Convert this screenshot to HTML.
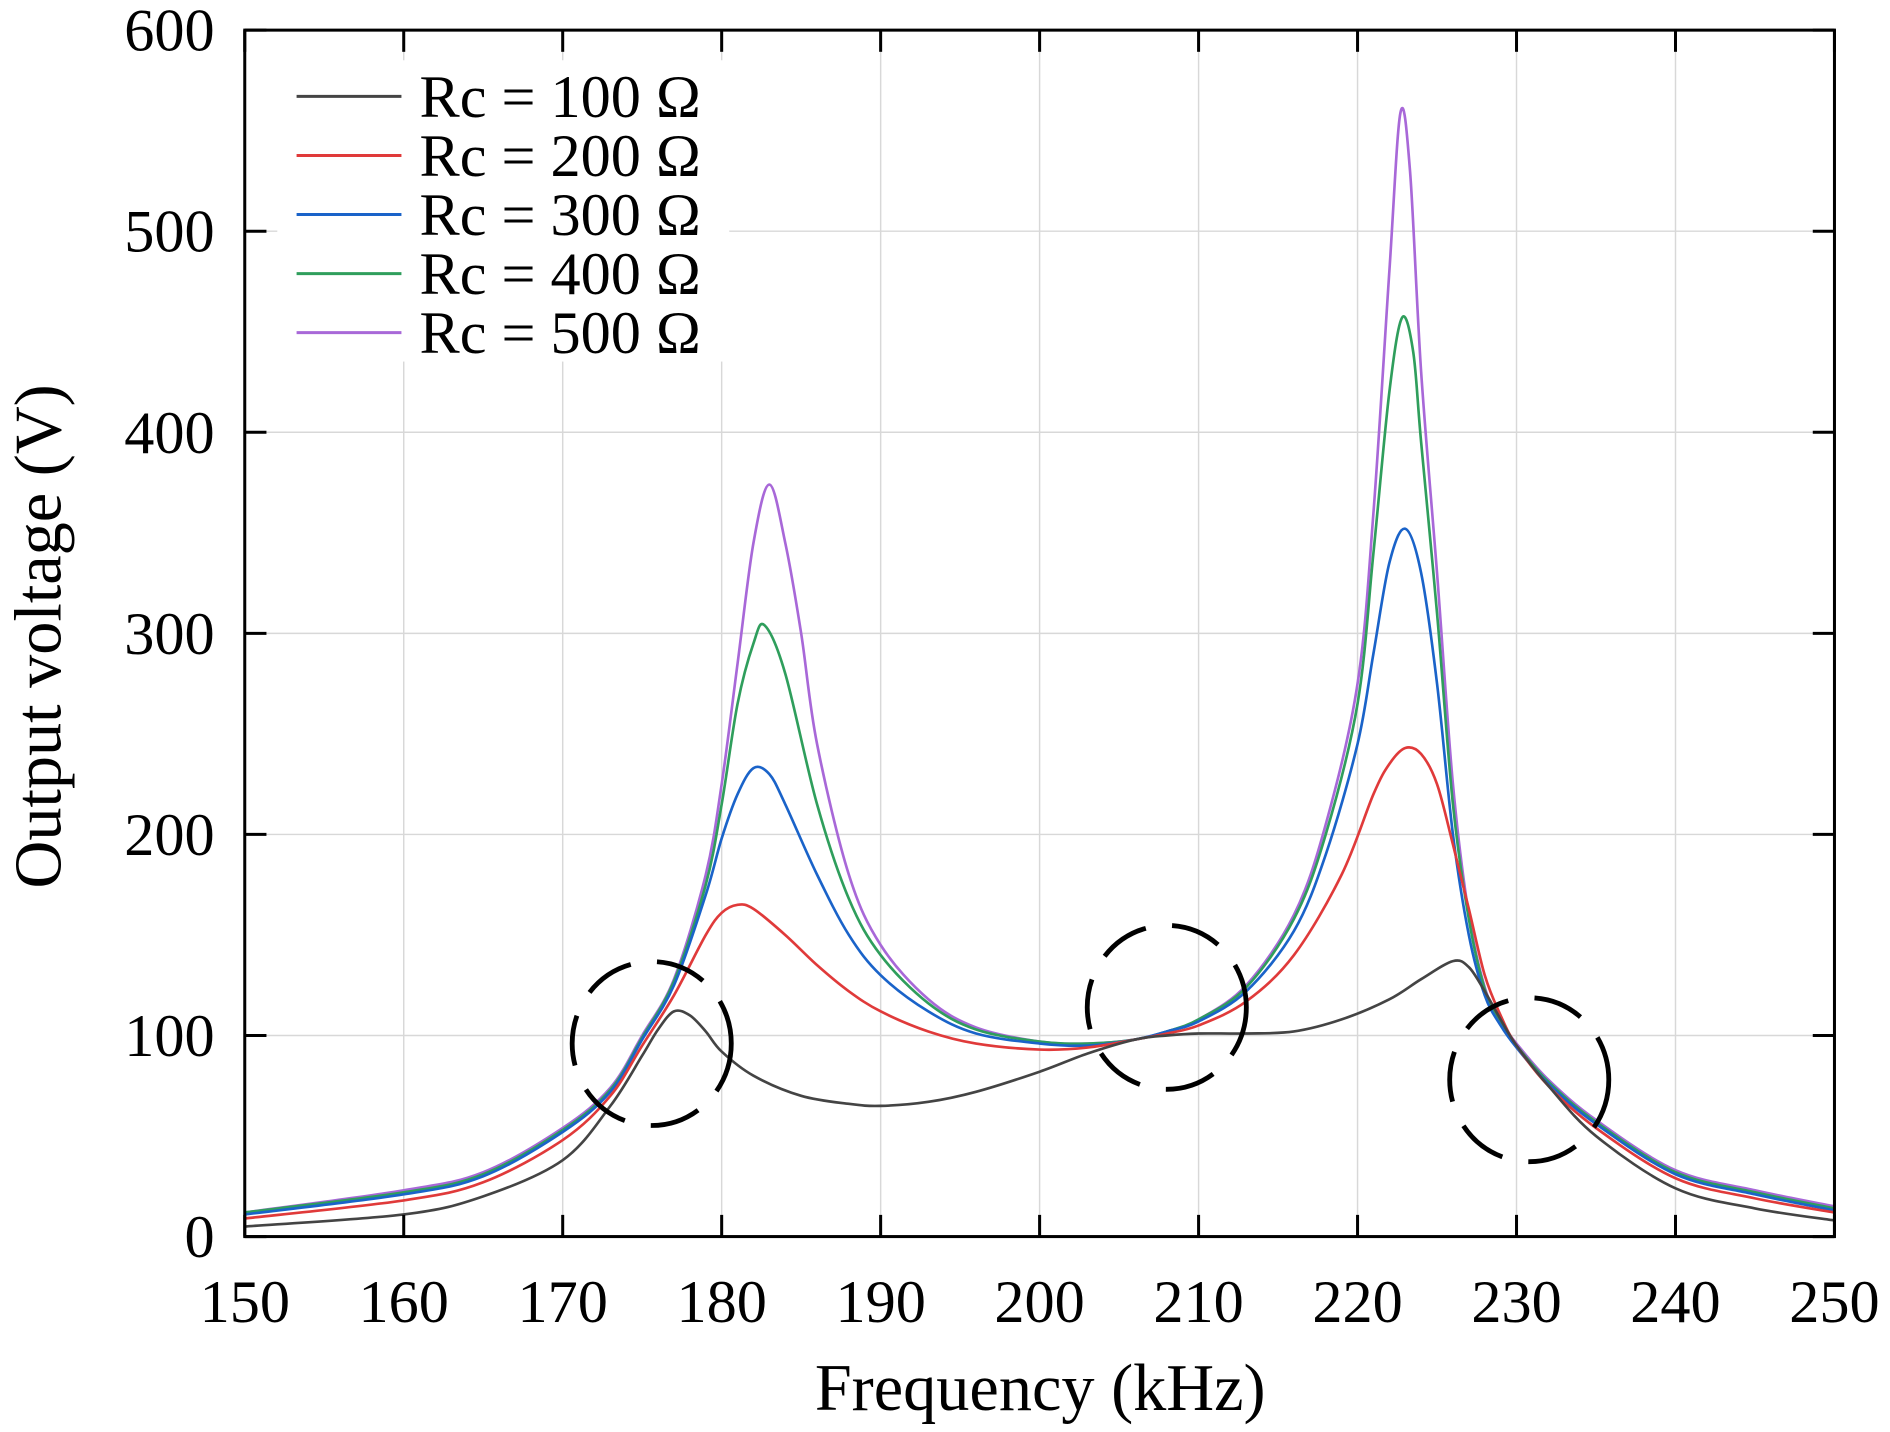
<!DOCTYPE html>
<html><head><meta charset="utf-8"><style>
html,body{margin:0;padding:0;background:#fff;}
svg text{font-family:"Liberation Serif",serif;fill:#000;}
</style></head><body>
<svg id="chart" width="1890" height="1427" viewBox="0 0 1568 1184" xmlns="http://www.w3.org/2000/svg">
<rect x="0" y="0" width="1568" height="1184" fill="#fff"/>
<g id="grid"></g>
<g id="series"></g>
<g id="circles"></g>
<g id="axes"></g>
<g id="legend"></g>
<text x="863" y="1170" font-size="55" text-anchor="middle">Frequency (kHz)</text>
<text x="0" y="0" font-size="55" text-anchor="middle" transform="translate(50,528) rotate(-90)">Output voltage (V)</text>
</svg>
<script>
const xTicks=[150,160,170,180,190,200,210,220,230,240,250];
const yTicks=[0,100,200,300,400,500,600];
const seriesNames=["Rc = 100 Ω","Rc = 200 Ω","Rc = 300 Ω","Rc = 400 Ω","Rc = 500 Ω"];
const seriesColors=["#444","#e03a3a","#1a63c9","#2f9e5c","#a868d8"];
const s100=[[150,5],[160,11],[165,20],[170,38],[173,65],[175,90],[176,103],[177,112],[178,110],[179,102],[180,92],[182,80],[185,70],[188,66],[190,65],[193,67],[196,72],[200,82],[203,91],[206,98],[208,100],[210,101],[213,101],[216,102],[219,108],[222,118],[224,128],[226,137],[227,134],[228,122],[229,108],[230,95],[232,75],[235,50],[240,24],[245,14],[250,8]];
const s200=[[150,9],[160,18],[165,27],[170,48],[173,70],[175,95],[177,120],[179,150],[180,161],[181,165],[182,163],[184,150],[186,135],[188,122],[190,112],[193,102],[196,96],[200,93],[203,94],[206,98],[208,101],[210,105],[213,117],[216,140],[219,180],[221,220],[222,235],[223,243],[224,240],[225,225],[226,195],[227,163],[228,130],[229,110],[230,95],[232,75],[235,54],[240,29],[245,19],[250,12]];
const s300=[[150,11],[160,21],[165,30],[170,52],[173,72],[175,98],[177,125],[179,170],[180,198],[181,220],[182,233],[183,230],[184,215],[186,180],[188,150],[190,130],[193,112],[196,101],[200,96],[203,95],[206,98],[208,102],[210,107],[213,122],[216,152],[218,190],[220,245],[221,290],[222,335],[223,352],[224,330],[225,275],[226,200],[227,150],[228,120],[229,105],[230,94],[232,76],[235,56],[240,31],[245,21],[250,13]];
const s400=[[150,12],[160,22],[165,31],[170,53],[173,73],[175,99],[177,127],[179,175],[180,215],[181,265],[182,295],[182.7,304],[184,280],[186,215],[188,168],[190,140],[193,116],[196,103],[200,97],[203,96],[206,98],[208,102],[210,108],[213,124],[216,158],[218,200],[220,265],[221,340],[222,420],[222.8,457],[223.5,440],[224,395],[225,310],[226,215],[227,158],[228,123],[229,106],[230,95],[232,77],[235,57],[240,32],[245,22],[250,14]];
const s500=[[150,12],[160,23],[165,32],[170,54],[173,74],[175,100],[177,128],[179,180],[180,225],[181,285],[182,345],[183,374],[184,345],[185,300],[186,245],[188,180],[190,145],[193,118],[196,104],[200,97],[203,96],[206,98],[208,102],[210,108],[213,125],[216,160],[218,205],[220,275],[221,360],[222,480],[222.7,559],[223.3,530],[224,430],[225,330],[226,225],[227,160],[228,124],[229,107],[230,96],[232,78],[235,58],[240,33],[245,23],[250,15]];
const allSeries=[s100,s200,s300,s400,s500];
const circles=[[175.6,96],[208.0,114],[230.8,78]];

const L=203,R=1522,T=25,B=1026,NS="http://www.w3.org/2000/svg";
const xs=v=>L+(v-150)/100*(R-L);
const ys=v=>B-v/600*(B-T);
function mk(tag,attrs,parent){const e=document.createElementNS(NS,tag);for(const k in attrs)e.setAttribute(k,attrs[k]);parent.appendChild(e);return e;}
const grid=document.getElementById('grid'),axes=document.getElementById('axes'),ser=document.getElementById('series'),cg=document.getElementById('circles'),lg=document.getElementById('legend');
xTicks.forEach(t=>{
  const g=mk('line',{x1:xs(t),x2:xs(t),y1:T,y2:B,stroke:'#d8d8d8','stroke-width':1.2},grid);
  
  mk('line',{x1:xs(t),x2:xs(t),y1:B,y2:B-18,stroke:'#000','stroke-width':2.5},axes);
  mk('line',{x1:xs(t),x2:xs(t),y1:T,y2:T+18,stroke:'#000','stroke-width':2.5},axes);
  const tx=mk('text',{x:xs(t),y:1097,'font-size':50,'text-anchor':'middle'},axes);tx.textContent=t;
  
});
yTicks.forEach(t=>{
  const g=mk('line',{x1:L,x2:R,y1:ys(t),y2:ys(t),stroke:'#d8d8d8','stroke-width':1.2},grid);
  
  mk('line',{x1:L,x2:L+18,y1:ys(t),y2:ys(t),stroke:'#000','stroke-width':2.5},axes);
  mk('line',{x1:R,x2:R-18,y1:ys(t),y2:ys(t),stroke:'#000','stroke-width':2.5},axes);
  const tx=mk('text',{x:178,y:ys(t)+17,'font-size':50,'text-anchor':'end'},axes);tx.textContent=t;
  
});
const fr=mk('rect',{x:L,y:T,width:R-L,height:B-T,fill:'none',stroke:'#000','stroke-width':2.5},axes);

function pathFor(d){const p=d.map(a=>[xs(a[0]),ys(a[1])]);let s='M'+p[0][0]+','+p[0][1];
  for(let i=0;i<p.length-1;i++){const p0=p[i-1]||p[i],p1=p[i],p2=p[i+1],p3=p[i+2]||p2;
    const c1=[p1[0]+(p2[0]-p0[0])/6,p1[1]+(p2[1]-p0[1])/6],c2=[p2[0]-(p3[0]-p1[0])/6,p2[1]-(p3[1]-p1[1])/6];
    s+='C'+c1[0]+','+c1[1]+' '+c2[0]+','+c2[1]+' '+p2[0]+','+p2[1];}return s;}
const order=[4,3,2,1,0];
order.forEach(i=>{
  const p=mk('path',{d:pathFor(allSeries[i]),fill:'none',stroke:seriesColors[i],'stroke-width':2.2},ser);
  
});
circles.forEach(c=>{
  const e=mk('ellipse',{cx:xs(c[0]),cy:ys(c[1]),rx:66,ry:68,fill:'none',stroke:'#000','stroke-width':4,'stroke-dasharray':'42 22'},cg);
  
});
const bg=mk('rect',{x:230,y:50,width:375,height:250,fill:'#fff'},lg);
seriesNames.forEach((n,i)=>{
  const y=80+i*49;
  const ln=mk('line',{x1:246,x2:333,y1:y,y2:y,stroke:seriesColors[i],'stroke-width':2.5},lg);
  
  const t=mk('text',{x:348,y:y+17,'font-size':50},lg);t.textContent=n;
  
});
</script>
</body></html>
